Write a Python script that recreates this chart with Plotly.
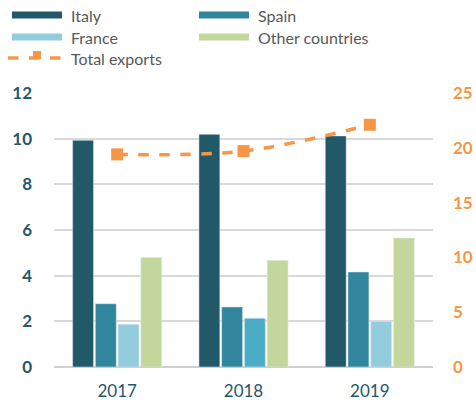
import plotly.graph_objects as go

years = ["2017", "2018", "2019"]
italy = [9.93, 10.19, 10.12]
spain = [2.77, 2.63, 4.16]
france = [1.87, 2.13, 2.0]
other = [4.8, 4.67, 5.65]
total_exports = [19.4, 19.7, 22.1]

left_ticks = [0, 2, 4, 6, 8, 10, 12]
right_ticks = [0, 5, 10, 15, 20, 25]

teal_dark = "#215968"
orange = "#f79646"
W, H = 476, 403
L, R, T, B = 54, 43, 93, 36


def px(x):
    return (x - L) / (W - L - R)


def py(y):
    return (H - B - y) / (H - T - B)


fig = go.Figure()
fig.add_trace(go.Bar(x=years, y=italy, name="Italy", marker_color=teal_dark))
fig.add_trace(go.Bar(x=years, y=spain, name="Spain", marker_color="#31859c"))
fig.add_trace(go.Bar(x=years, y=france, name="France",
                     marker_color=["#93cddd", "#4bacc6", "#93cddd"]))
fig.add_trace(go.Bar(x=years, y=other, name="Other countries", marker_color="#c3d69b"))
fig.add_trace(go.Scatter(
    x=years, y=total_exports, name="Total exports", yaxis="y2",
    mode="lines+markers", line=dict(color=orange, width=3.5, dash="dash", shape="spline"),
    marker=dict(symbol="square", size=12, color=orange),
))

# hand-drawn legend (two columns like the original)
legend_items = [
    ("Italy", teal_dark, 12, 15),
    ("Spain", "#31859c", 199, 15),
    ("France", "#93cddd", 12, 37),
    ("Other countries", "#c3d69b", 199, 37),
]
shapes = []
annotations = []
for name, col, x0, yc in legend_items:
    shapes.append(dict(type="rect", xref="paper", yref="paper",
                       x0=px(x0), x1=px(x0 + 50), y0=py(yc + 3.5), y1=py(yc - 3.5),
                       fillcolor=col, line_width=0))
    annotations.append(dict(text=name, xref="paper", yref="paper", x=px(x0 + 57), y=py(yc),
                            xanchor="left", yanchor="middle", showarrow=False,
                            font=dict(size=16, color="#595959")))
shapes.append(dict(type="line", xref="paper", yref="paper", x0=px(8), x1=px(66),
                   y0=py(58), y1=py(58), line=dict(color=orange, width=3.5, dash="dash")))
shapes.append(dict(type="rect", xref="paper", yref="paper", x0=px(33), x1=px(41),
                   y0=py(59), y1=py(51), fillcolor=orange, line_width=0))
annotations.append(dict(text="Total exports", xref="paper", yref="paper", x=px(69), y=py(58),
                        xanchor="left", yanchor="middle", showarrow=False,
                        font=dict(size=16, color="#595959")))

fig.update_layout(
    width=W, height=H,
    margin=dict(l=L, r=R, t=T, b=B),
    paper_bgcolor="white", plot_bgcolor="white",
    font=dict(family="Lato, Open Sans, sans-serif", color="#595959"),
    barmode="group", bargap=0.28, bargroupgap=0.08,
    showlegend=False,
    shapes=shapes, annotations=annotations,
    xaxis=dict(tickfont=dict(size=17, color="#23576a"), showline=False,
               ticks="", showgrid=False, automargin=False, ticklabelstandoff=12),
    yaxis=dict(range=[0, 12], tickvals=left_ticks, showgrid=True, gridcolor="#d9d9d9",
               gridwidth=1.5, zeroline=True, zerolinecolor="#d0d0d0", zerolinewidth=2,
               tickfont=dict(size=17, color="#23576a", weight="bold"),
               ticklabelstandoff=21, automargin=False),
    yaxis2=dict(range=[0, 25], tickvals=right_ticks, overlaying="y", side="right",
                showgrid=False, zeroline=False, automargin=False,
                tickfont=dict(size=17, color=orange, weight="bold"),
                ticklabelstandoff=19),
)

fig.write_html("out.html", config={"displayModeBar": False},
               post_script="document.body.style.margin='0';")
